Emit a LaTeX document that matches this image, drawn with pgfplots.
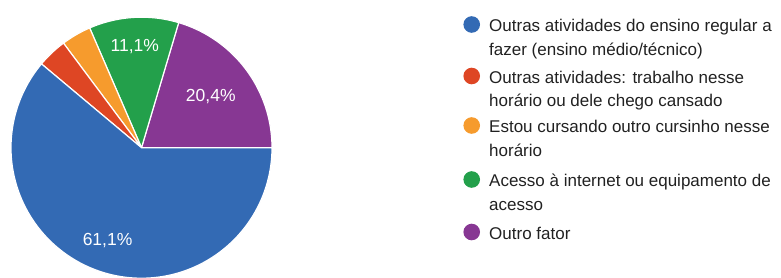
\documentclass[border=0pt]{standalone}
\usepackage{pgfplots}
\pgfplotsset{compat=1.18}
\usepackage{fontspec}
\setmainfont{Liberation Sans}
\definecolor{cblue}{RGB}{51,106,180}
\definecolor{cred}{RGB}{222,70,36}
\definecolor{corange}{RGB}{246,155,45}
\definecolor{cgreen}{RGB}{35,160,75}
\definecolor{cpurple}{RGB}{135,55,147}
\definecolor{ctext}{RGB}{33,33,33}
% percentages (counter-clockwise from 3 o'clock)
\def\vPurple{20.4}
\def\vGreen{11.1}
\def\vOrange{3.7}
\def\vRed{3.7}
\def\vBlue{61.1}
\pgfmathsetmacro\aA{0}
\pgfmathsetmacro\aB{\aA+\vPurple*3.6}
\pgfmathsetmacro\aC{\aB+\vGreen*3.6}
\pgfmathsetmacro\aD{\aC+\vOrange*3.6}
\pgfmathsetmacro\aE{\aD+\vRed*3.6}
\pgfmathsetmacro\aF{\aE+\vBlue*3.6}
\newcommand\legitem[4]{%
  \fill[#1] (471.7,{277-#2+7}) circle (8.3);
  \node[anchor=base west, inner sep=0pt, text=ctext, font=\fontsize{17}{20}\selectfont] at (489,{277-#2}) {#3};
  \node[anchor=base west, inner sep=0pt, text=ctext, font=\fontsize{17}{20}\selectfont] at (489,{277-#2-23.5}) {#4};
}
\begin{document}
\begin{tikzpicture}[x=1pt,y=1pt]
\useasboundingbox (0,0) rectangle (781,277);
\begin{axis}[at={(141.5pt,129.3pt)}, anchor=center, scale only axis,
  width=261pt, height=261pt, xmin=-1, xmax=1, ymin=-1, ymax=1,
  hide axis, clip=false]
\addplot[fill=cpurple, draw=white, line width=1.2pt, domain=\aA:\aB, samples=60, variable=\t] ({cos(t)},{sin(t)}) -- (axis cs:0,0) -- cycle;
\addplot[fill=cgreen, draw=white, line width=1.2pt, domain=\aB:\aC, samples=40, variable=\t] ({cos(t)},{sin(t)}) -- (axis cs:0,0) -- cycle;
\addplot[fill=corange, draw=white, line width=1.2pt, domain=\aC:\aD, samples=20, variable=\t] ({cos(t)},{sin(t)}) -- (axis cs:0,0) -- cycle;
\addplot[fill=cred, draw=white, line width=1.2pt, domain=\aD:\aE, samples=20, variable=\t] ({cos(t)},{sin(t)}) -- (axis cs:0,0) -- cycle;
\addplot[fill=cblue, draw=white, line width=1.2pt, domain=\aE:\aF, samples=150, variable=\t] ({cos(t)},{sin(t)}) -- (axis cs:0,0) -- cycle;
\node[text=white, font=\fontsize{17.5}{20}\selectfont] at (axis cs:{0.76*cos(250)},{0.76*sin(250)}) {61,1\%};
\node[text=white, font=\fontsize{17.5}{20}\selectfont] at (axis cs:{0.662*cos(36.7)},{0.662*sin(36.7)}) {20,4\%};
\node[text=white, font=\fontsize{17.5}{20}\selectfont] at (axis cs:{0.78*cos(93.8)},{0.78*sin(93.8)}) {11,1\%};
\end{axis}
\legitem{cblue}{31.5}{Outras atividades do ensino regular a}{fazer (ensino médio/técnico)}
\legitem{cred}{83}{Outras atividades: trabalho nesse}{horário ou dele chego cansado}
\legitem{corange}{132.5}{Estou cursando outro cursinho nesse}{horário}
\legitem{cgreen}{186.5}{Acesso à internet ou equipamento de}{acesso}
\legitem{cpurple}{239}{Outro fator}{}
\end{tikzpicture}
\end{document}
